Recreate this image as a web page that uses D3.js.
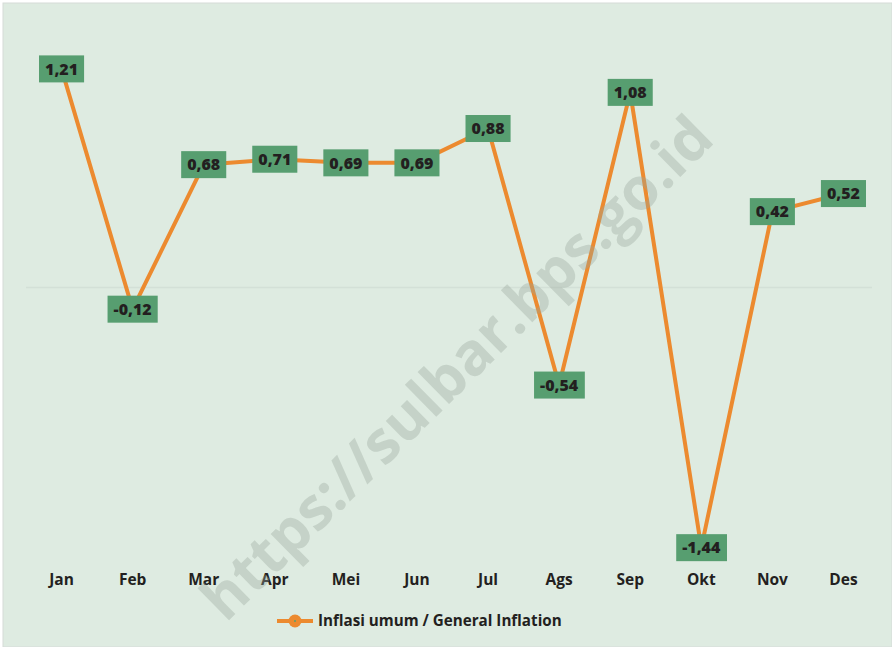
<!DOCTYPE html>
<html>
<head>
<meta charset="utf-8">
<script src="https://cdn.jsdelivr.net/npm/d3@7"></script>
<style>
  body { margin: 0; background: #fff; }
  svg { display: block; }
</style>
</head>
<body>
<svg id="chart" width="892" height="647"></svg>
<script>
// monthly inflation, m-to-m (%)
const months = ["Jan", "Feb", "Mar", "Apr", "Mei", "Jun", "Jul", "Ags", "Sep", "Okt", "Nov", "Des"];
const inflation = [1.21, -0.12, 0.68, 0.71, 0.69, 0.69, 0.88, -0.54, 1.08, -1.44, 0.42, 0.52];
const seriesName = "Inflasi umum / General Inflation";

const W = 892, H = 647;
const svg = d3.select("#chart");
const font = "'Open Sans', 'Noto Sans', sans-serif";

// background
svg.append("rect").attr("width", W).attr("height", H).attr("fill", "#fff");
svg.append("rect").attr("x", 3).attr("y", 3).attr("width", W - 3).attr("height", H - 3)
  .attr("fill", "#deebe1").attr("stroke", "#d6dbd8").attr("stroke-width", 1);

const x = d3.scaleBand().domain(months).range([26, 879]);
const y = d3.scaleLinear().domain([-1.5, 1.5]).range([558.5, 16.5]);

// zero line
svg.append("line")
  .attr("x1", 26).attr("x2", 872)
  .attr("y1", y(0)).attr("y2", y(0))
  .attr("stroke", "#d3e0d7").attr("stroke-width", 1.5);

// category axis (labels only)
const xAxis = svg.append("g")
  .attr("transform", "translate(0,574)")
  .call(d3.axisBottom(x).tickSize(0).tickPadding(0));
xAxis.select(".domain").remove();
xAxis.selectAll("text")
  .attr("dy", "0.71em")
  .attr("fill", "#231f20")
  .style("font-family", font)
  .style("font-weight", "700")
  .style("font-size", "15.5px");

const cx = (d, i) => x(months[i]) + x.bandwidth() / 2;

// line
const line = d3.line().x((d, i) => cx(d, i)).y(d => y(d));
svg.append("path")
  .datum(inflation)
  .attr("d", line)
  .attr("fill", "none")
  .attr("stroke", "#ec8a2f")
  .attr("stroke-width", 4)
  .attr("stroke-linejoin", "round");

// data labels
const fmt = v => d3.format(".2f")(v).replace(".", ",").replace("−", "-");
const lab = svg.append("g").selectAll("g").data(inflation).join("g")
  .attr("transform", (d, i) => `translate(${cx(d, i)},${y(d)})`);
lab.append("text")
  .attr("text-anchor", "middle")
  .attr("dy", "0.36em")
  .attr("fill", "#231f20")
  .style("font-family", font)
  .style("font-weight", "800")
  .style("font-size", "16px")
  .text(fmt);
lab.each(function () {
  const g = d3.select(this);
  const bb = g.select("text").node().getBBox();
  g.insert("rect", "text")
    .attr("x", bb.x - 6).attr("y", -13.5)
    .attr("width", bb.width + 12).attr("height", 27)
    .attr("fill", "#579e70");
});

// watermark, drawn over the chart
svg.append("text")
  .attr("transform", "translate(455,366) rotate(-44.5)")
  .attr("text-anchor", "middle")
  .attr("dominant-baseline", "central")
  .attr("fill", "#98a69c")
  .attr("fill-opacity", 0.36)
  .style("font-family", font)
  .style("font-weight", "700")
  .style("font-size", "59px")
  .text("https://sulbar.bps.go.id");

// legend
const leg = svg.append("g").attr("transform", "translate(277,621)");
leg.append("line").attr("x1", 0).attr("x2", 36).attr("stroke", "#ec8a2f").attr("stroke-width", 4);
leg.append("circle").attr("cx", 18).attr("r", 6.5).attr("fill", "#ec8a2f");
leg.append("circle").attr("cx", 18).attr("r", 1).attr("fill", "#579e70");
leg.append("text")
  .attr("x", 41).attr("dy", "0.35em")
  .attr("fill", "#231f20")
  .style("font-family", font)
  .style("font-weight", "700")
  .style("font-size", "15.2px")
  .text(seriesName);
</script>
</body>
</html>
